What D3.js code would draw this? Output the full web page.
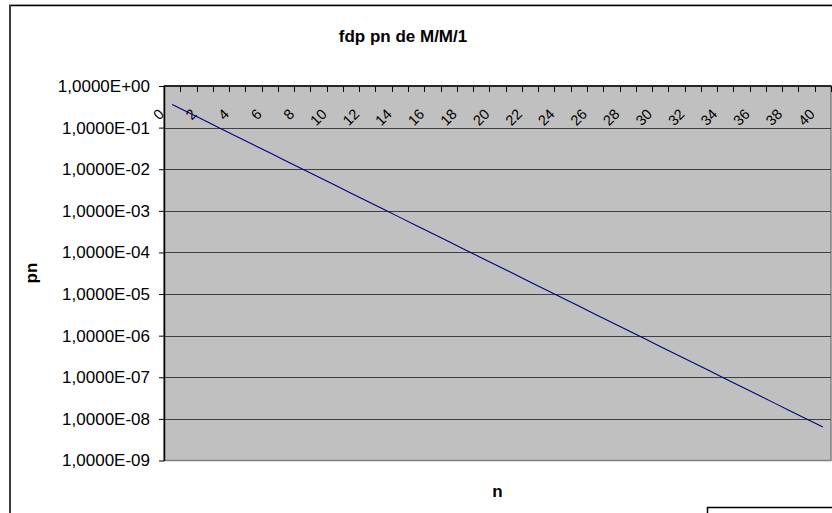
<!DOCTYPE html>
<html><head><meta charset="utf-8">
<script src="https://cdn.jsdelivr.net/npm/d3@7"></script>
<style>body{margin:0;background:#fff;overflow:hidden;} svg{display:block;font-family:"Liberation Sans",Arial,sans-serif;}</style>
</head><body><svg id="c" width="832" height="513"></svg>
<script>
const chartTitle = "fdp pn de M/M/1";
const xTitle = "n";
const yTitle = "pn";
const categories = [0,1,2,3,4,5,6,7,8,9,10,11,12,13,14,15,16,17,18,19,20,21,22,23,24,25,26,27,28,29,30,31,32,33,34,35,36,37,38,39,40];
const pn = [0.36,0.2304,0.147456,0.09437,0.0604,0.03865,0.02474,0.01583,0.010133,0.006485,
  0.004151,0.002656,0.0017001,0.001088,0.00069634,0.00044566,0.00028522,0.00018254,0.00011683,7.4769e-5,
  4.7852e-5,3.0625e-5,1.96e-5,1.2544e-5,8.0283e-6,5.1381e-6,3.2884e-6,2.1046e-6,1.3469e-6,8.6203e-7,
  5.517e-7,3.5309e-7,2.2598e-7,1.4462e-7,9.256e-8,5.9238e-8,3.7913e-8,2.4264e-8,1.5529e-8,9.9386e-9,6.3607e-9];
const xTickLabels = ["0","2","4","6","8","10","12","14","16","18","20","22","24","26","28","30","32","34","36","38","40"];
const yTickValues = [1,1e-1,1e-2,1e-3,1e-4,1e-5,1e-6,1e-7,1e-8,1e-9];
const yTickLabels = ["1,0000E+00","1,0000E-01","1,0000E-02","1,0000E-03","1,0000E-04","1,0000E-05","1,0000E-06","1,0000E-07","1,0000E-08","1,0000E-09"];

const svg = d3.select("#c");
const P = {left:164, right:831, top:86, bottom:460.5};
const x = d3.scaleBand().domain(categories).range([P.left, P.right]).paddingInner(0).paddingOuter(0);
const y = d3.scaleLog().domain([1e-9, 1]).range([P.bottom, P.top]);

// chart area border
svg.append("line").attr("x1",9).attr("x2",840).attr("y1",4.5).attr("y2",4.5).attr("stroke","#d0d0d0").attr("stroke-width",1);
svg.append("line").attr("x1",9).attr("x2",840).attr("y1",5.5).attr("y2",5.5).attr("stroke","#000").attr("stroke-width",1.5);
svg.append("line").attr("x1",10).attr("x2",10).attr("y1",5).attr("y2",520).attr("stroke","#3c3c3c").attr("stroke-width",2);

// title
svg.append("text").attr("x",403).attr("y",42).attr("text-anchor","middle")
  .attr("font-size",17).attr("font-weight","bold").text(chartTitle);

// plot area
svg.append("rect").attr("x",P.left).attr("y",P.top).attr("width",P.right-P.left).attr("height",P.bottom-P.top)
  .attr("fill","#c0c0c0").attr("stroke","#808080").attr("stroke-width",1.5);

// gridlines
svg.append("g").selectAll("line").data(yTickValues.slice(1,-1)).join("line")
  .attr("x1",P.left).attr("x2",P.right)
  .attr("y1",d=>Math.round(y(d))+0.5).attr("y2",d=>Math.round(y(d))+0.5)
  .attr("stroke","#404040").attr("stroke-width",1);

// y axis
const yAxis = d3.axisLeft(y).tickValues(yTickValues).tickFormat((d,i)=>yTickLabels[i])
  .tickSize(5).tickSizeOuter(0).tickPadding(9);
const gy = svg.append("g").attr("transform",`translate(${P.left},0)`).call(yAxis);
gy.selectAll("text").attr("font-size",17).attr("fill","#000").attr("font-family","Liberation Sans, Arial, sans-serif");
gy.selectAll("line").attr("stroke","#000");
gy.select(".domain").attr("stroke","#000").attr("stroke-width",1.5);

// top category axis
const boundaries = categories.map(c=>x(c)).concat([P.right]);
svg.append("line").attr("x1",P.left).attr("x2",P.right).attr("y1",P.top).attr("y2",P.top).attr("stroke","#000").attr("stroke-width",1.5);
svg.append("g").selectAll("line").data(boundaries).join("line")
  .attr("x1",d=>Math.round(d)+0.5).attr("x2",d=>Math.round(d)+0.5)
  .attr("y1",P.top).attr("y2",P.top+6).attr("stroke","#000").attr("stroke-width",1);
svg.append("g").selectAll("text").data(xTickLabels).join("text")
  .attr("transform",d=>`translate(${x(+d)+1},${P.top+29}) rotate(-45)`)
  .attr("text-anchor","end").attr("font-size",14.5).attr("fill","#000").text(d=>d);

// line
const line = d3.line().x((d,i)=>x(categories[i])+x.bandwidth()/2).y(d=>y(d));
svg.append("path").datum(pn).attr("d",line).attr("fill","none").attr("stroke","#000080").attr("stroke-width",1.1);

// axis titles
svg.append("text").attr("transform","translate(37,273) rotate(-90)").attr("text-anchor","middle")
  .attr("font-size",17).attr("font-weight","bold").text(yTitle);
svg.append("text").attr("x",(P.left+P.right)/2).attr("y",497).attr("text-anchor","middle")
  .attr("font-size",17).attr("font-weight","bold").text(xTitle);

// legend box (cut off)
svg.append("rect").attr("x",707.5).attr("y",507.5).attr("width",200).attr("height",60)
  .attr("fill","#fff").attr("stroke","#000").attr("stroke-width",1.5);
</script></body></html>
